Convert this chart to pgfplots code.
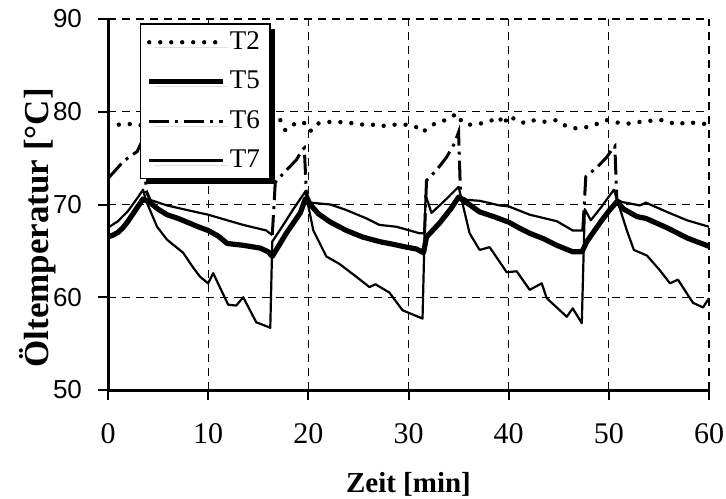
\documentclass[border=0pt]{standalone}
\usepackage{fontspec}
\setmainfont{Liberation Serif}
\newfontfamily\ysans{Liberation Sans}
\usepackage{pgfplots}
\pgfplotsset{compat=1.18}
\usetikzlibrary{shadows}

\begin{document}
\begin{tikzpicture}
\path[use as bounding box] (-54pt,-54pt) rectangle (309pt,195pt);
\begin{axis}[
  at={(0,0)}, anchor=south west,
  scale only axis, width=300.5pt, height=185.5pt,
  xmin=0, xmax=60, ymin=50, ymax=90,
  xtick={0,10,...,60}, ytick={50,60,...,90},
  axis x line*=bottom, axis y line*=left,
  axis line style={line width=1.5pt,-},
  tick align=outside, major tick length=5pt,
  tick style={line width=1pt,black},
  grid=major,
  major grid style={dash pattern=on 4pt off 3pt, line width=0.6pt, black},
  /pgf/number format/assume math mode=true,
  x tick label style={font=\fontsize{15}{17}\selectfont, yshift=-8pt},
  y tick label style={font=\ysans\fontsize{13}{15}\selectfont, xshift=-4.5pt},
  xlabel={\textbf{Zeit [min]}},
  xlabel style={font=\fontsize{14.5}{16}\selectfont, at={(axis description cs:0.5,0)}, anchor=center, yshift=-47pt},
  ylabel={\textbf{Öltemperatur [°C]}},
  ylabel style={font=\fontsize{17.5}{20}\selectfont, at={(axis description cs:0,0.437)}, anchor=center, yshift=35pt},
  legend style={at={(axis description cs:0.053,0.989)}, anchor=north west,
    font=\fontsize{13.5}{16}\selectfont, draw=black, line width=0.75pt, fill=white,
    inner xsep=3pt, inner ysep=2pt, row sep=5.3pt,
    drop shadow={shadow xshift=2.5pt, shadow yshift=-2.5pt, fill=black, draw=none, opacity=1}},
  legend cell align=left,
  legend image code/.code={\draw[#1] (0pt,0pt) -- (37pt,0pt);},
]
% T2
\addplot[black, line width=2.2pt, line cap=round, dash pattern=on 0pt off 5.5pt] coordinates {
(0,78.8)(1,78.6)(2,78.7)(3,78.5)(4,78.7)(5,78.9)(6,78.6)(7,78.8)(8,79.0)(9,78.7)
(10,78.8)(11,78.6)(12,78.9)(13,78.7)(14,78.9)(15,78.6)(16,78.9)(17.2,79.1)(17.7,78.0)
(18.4,78.6)(19.5,78.9)(20.2,77.9)(20.8,78.7)(21.8,78.9)(22.9,78.9)(24.2,78.8)(25.1,78.6)
(26.1,78.7)(27.1,78.4)(28.1,78.6)(29.1,78.6)(30.0,78.6)(30.7,78.4)(31.4,77.8)(32.4,78.6)
(33.2,78.9)(34.1,79.3)(34.8,79.8)(35.4,78.8)(36.2,78.6)(37.1,78.7)(38.4,79.1)(39.1,79.4)
(39.4,78.6)(40.1,79.6)(40.8,79.0)(41.6,78.8)(42.3,79.1)(43.4,78.9)(44.8,79.1)(45.8,78.4)
(46.8,78.2)(48.1,78.4)(49.1,78.8)(49.8,79.1)(50.4,78.9)(51.8,78.7)(53.1,78.9)(54.8,79.1)
(55.5,79.1)(56.8,78.6)(57.8,78.9)(59.1,78.7)(60,78.7)};
\addlegendentry{T2}
% T5
\addplot[black, line width=2.6pt, line join=round] coordinates {
(0,66.5)(0.5,66.7)(1,67.0)(1.5,67.5)(2,68.2)(2.5,69.0)(3,69.8)(3.5,70.6)(4.2,70.2)
(5,69.5)(5.9,68.9)(7,68.5)(7.9,68.1)(9,67.6)(10,67.2)(11,66.6)(11.9,65.8)(13.5,65.6)
(15.2,65.3)(16,64.9)(16.4,64.4)(17.8,66.9)(19.2,69.1)(19.7,70.6)(20.2,70.0)(21,69.0)
(22.2,68.1)(23.8,67.2)(25.4,66.5)(27.1,66.0)(28.5,65.7)(29.8,65.4)(30.8,65.2)(31.5,64.8)
(31.8,66.5)(33.1,68.0)(34.2,69.5)(35,70.8)(35.8,70.2)(37.1,69.2)(38.5,68.7)(40,68.1)
(41,67.5)(42.1,66.9)(43.5,66.3)(44.8,65.6)(46.4,64.9)(47.3,64.9)(47.5,65.3)(47.8,66.0)
(49.1,68.0)(50,69.3)(50.8,70.3)(51.5,69.5)(52.8,68.7)(53.7,68.5)(55.8,67.5)(57.8,66.4)
(59,65.9)(60,65.5)};
\addlegendentry{T5}
% T6 rising parts (dash-dot)
\addplot[black, line width=1.5pt, dash pattern=on 10pt off 3pt on 1.5pt off 3pt] coordinates {
(0,72.8)(0.5,73.4)(1,74.0)(1.5,74.6)(2.2,75.2)(2.9,75.7)(3.3,76.6)(3.6,77.0)(3.8,71.5)(4.2,70.5)};
\addlegendentry{T6}
\addplot[black, line width=1.5pt, dash pattern=on 10pt off 3pt on 1.5pt off 3pt, forget plot] coordinates {
(16.4,66.7)(16.7,72.4)(17.8,73.7)(18.8,74.8)(19.4,75.9)(19.6,76.1)(19.8,71.2)(20.2,70.2)};
\addplot[black, line width=1.5pt, dash pattern=on 10pt off 3pt on 1.5pt off 3pt, forget plot] coordinates {
(31.6,66.9)(31.8,72.6)(32.8,73.7)(33.8,75.1)(34.6,76.6)(35,77.8)(35.2,70.8)(35.8,70.5)};
\addplot[black, line width=1.5pt, dash pattern=on 10pt off 3pt on 1.5pt off 3pt, forget plot] coordinates {
(47.4,67.2)(47.7,73.0)(48.8,74.0)(49.8,75.1)(50.4,76.1)(50.6,76.3)(50.8,70.5)(51.2,70.3)};
% T6 decay parts (drawn solid as in the reference)
\addplot[black, line width=1.1pt, forget plot] coordinates {
(4.2,70.5)(5.9,69.9)(7.9,69.4)(10,68.9)(11.9,68.3)(13.5,67.8)(15.8,67.2)(16.4,66.7)};
\addplot[black, line width=1.1pt, forget plot] coordinates {
(20.2,70.2)(22.2,70.0)(23.8,69.4)(25.8,68.5)(27.1,67.8)(28.8,67.6)(31.1,66.9)(31.6,66.9)};
\addplot[black, line width=1.1pt, forget plot] coordinates {
(35.8,70.5)(37.1,70.4)(39.1,69.9)(40,69.8)(42.1,68.9)(44.8,68.2)(46.4,67.2)(47.4,67.2)};
\addplot[black, line width=1.1pt, forget plot] coordinates {
(51.2,70.3)(53.1,69.9)(53.7,70.2)(55.8,69.2)(57.8,68.3)(60,67.6)};
% T7
\addplot[black, line width=1.1pt, line join=round] coordinates {
(0,67.5)(1,68.2)(2,69.3)(3,70.8)(3.5,71.6)(3.8,70.4)(4.9,67.6)(5.9,66.2)(7.5,64.8)
(8.5,63.2)(9.2,62.2)(10,61.5)(10.5,62.6)(11.2,61.0)(12,59.2)(12.8,59.1)(13.5,60.0)
(14.8,57.3)(16,56.8)(16.2,56.7)(16.4,66.0)(17.5,67.8)(18.5,69.5)(19.7,71.4)(20.5,67.2)
(21.8,64.4)(23.1,63.6)(24.8,62.2)(26.1,61.1)(26.7,61.4)(28.1,60.5)(29.4,58.6)(31.4,57.7)
(31.7,71.0)(32.3,69.1)(33.5,70.3)(35,71.9)(36.1,66.9)(37.1,65.1)(38.1,65.4)(39.8,62.7)
(40.8,62.8)(42.1,60.8)(43.3,61.5)(43.8,59.9)(45.8,57.9)(46.4,58.8)(47.3,57.2)(47.6,69.5)
(48.2,68.3)(49.3,69.8)(50.5,71.6)(51.8,67.2)(52.5,65.1)(53.8,64.5)(55.1,62.9)(56.1,61.5)
(56.9,61.9)(58.4,59.4)(59.4,58.9)(60,59.9)};
\addlegendentry{T7}
\end{axis}
\end{tikzpicture}
\end{document}
